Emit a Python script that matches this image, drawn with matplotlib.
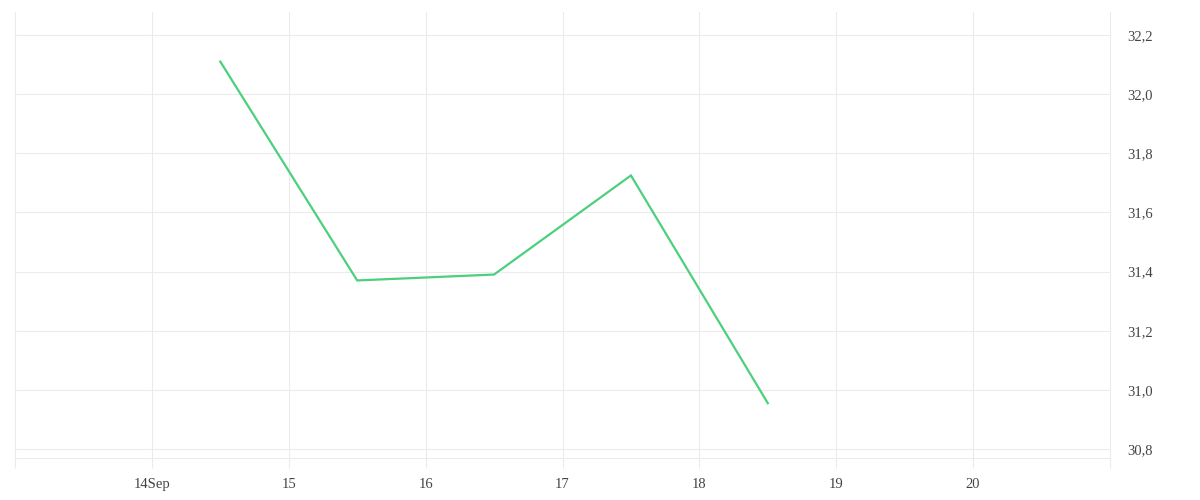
import matplotlib
matplotlib.use("Agg")
import matplotlib.pyplot as plt
import matplotlib.dates as mdates
from matplotlib.ticker import FuncFormatter, FixedLocator
import pandas as pd

# Data
dates = ["2023-09-14 12:00", "2023-09-15 12:00", "2023-09-16 12:00",
         "2023-09-17 12:00", "2023-09-18 12:00"]
values = [32.11, 31.37, 31.39, 31.725, 30.955]
tick_days = ["2023-09-14", "2023-09-15", "2023-09-16", "2023-09-17",
             "2023-09-18", "2023-09-19", "2023-09-20"]
tick_labels = ["14Sep", "15", "16", "17", "18", "19", "20"]
y_ticks = [30.8, 31.0, 31.2, 31.4, 31.6, 31.8, 32.0, 32.2]

x = pd.to_datetime(dates)
xt = mdates.date2num(pd.to_datetime(tick_days))

fig = plt.figure(figsize=(12, 5), dpi=100)
ax = fig.add_axes([15 / 1200, 42 / 500, 1095 / 1200, 446 / 500])

grid_c = "#ebebeb"
ax.plot(x, values, color="#4cd07d", lw=1.6, solid_joinstyle="miter", zorder=3)

ax.set_xlim(mdates.date2num(pd.Timestamp("2023-09-13")),
            mdates.date2num(pd.Timestamp("2023-09-21")))
ax.set_ylim(30.7696, 32.2778)

ax.xaxis.set_major_locator(FixedLocator(xt))
ax.set_xticklabels(tick_labels)
ax.xaxis.set_minor_locator(FixedLocator([mdates.date2num(pd.Timestamp("2023-09-13")),
                                         mdates.date2num(pd.Timestamp("2023-09-21"))]))
ax.set_yticks(y_ticks)
ax.yaxis.set_major_formatter(FuncFormatter(lambda v, p: f"{v:.1f}".replace(".", ",")))
ax.yaxis.tick_right()

ax.grid(True, color=grid_c, lw=0.75)
ax.set_axisbelow(True)

ax.spines["top"].set_visible(False)
for s in ["left", "right", "bottom"]:
    ax.spines[s].set_color(grid_c)
    ax.spines[s].set_linewidth(0.75)

font = dict(family=["Liberation Serif", "DejaVu Serif"], size=10.5)
ax.tick_params(axis="x", which="both", length=7.2, color=grid_c, width=0.75,
               pad=7, labelcolor="#444444")
ax.tick_params(axis="y", length=0, pad=12.2, labelcolor="#444444")
for lab in ax.get_xticklabels() + ax.get_yticklabels():
    lab.set_fontfamily(font["family"])
    lab.set_fontsize(font["size"])

fig.savefig("out.png", dpi=100, facecolor="white")
